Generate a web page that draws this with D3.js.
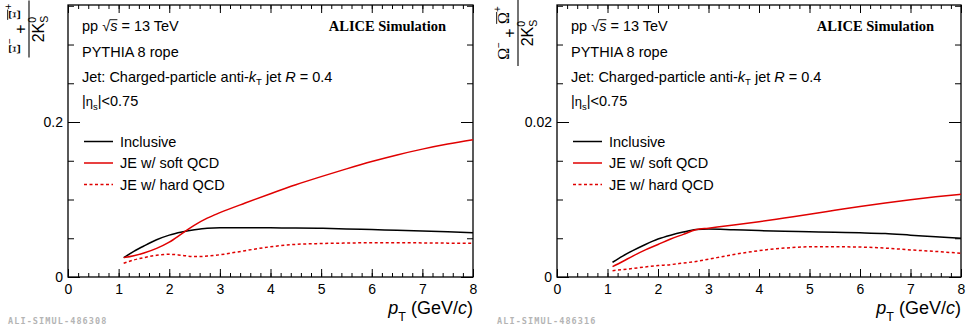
<!DOCTYPE html>
<html><head><meta charset="utf-8">
<script src="https://cdn.jsdelivr.net/npm/d3@7"></script>
<style>body{margin:0;background:#fff}svg{display:block}text{white-space:pre}</style>
</head><body>
<script>
// ---------------- data ----------------
const pT = [1.1,1.3,1.5,1.75,2.0,2.25,2.5,2.75,3.0,3.5,4.0,4.5,5.0,5.5,6.0,6.5,7.0,7.5,8.0];
const xiInclusive = [0.025,0.033,0.040,0.048,0.054,0.058,0.061,0.063,0.0635,0.0635,0.0634,0.0632,0.0628,0.0621,0.0612,0.0603,0.0594,0.0583,0.0572];
const xiSoft      = [0.025,0.0275,0.031,0.037,0.045,0.056,0.067,0.076,0.083,0.0955,0.1075,0.119,0.1295,0.1395,0.149,0.1575,0.165,0.1715,0.177];
const xiHard      = [0.0177,0.022,0.025,0.028,0.0293,0.028,0.0263,0.027,0.0287,0.034,0.039,0.0421,0.0432,0.0438,0.0442,0.0442,0.044,0.0437,0.0435];
const omInclusive = [0.0019,0.0027,0.0034,0.0042,0.0049,0.0054,0.0058,0.00612,0.0062,0.0061,0.00599,0.0059,0.00584,0.00577,0.0057,0.0056,0.0054,0.0052,0.0050];
const omSoft      = [0.00133,0.0020,0.0027,0.0035,0.0042,0.0049,0.0055,0.0061,0.0063,0.0067,0.00714,0.00762,0.0081,0.0086,0.0091,0.00955,0.00997,0.01035,0.01067];
const omHard      = [0.00082,0.00095,0.0011,0.0013,0.00147,0.0016,0.0018,0.0020,0.0023,0.0029,0.0034,0.00373,0.0039,0.0039,0.00386,0.00373,0.0035,0.0033,0.00306];
const xTickLabels = [0,1,2,3,4,5,6,7,8];
const xiYTickLabels = [0,0.2];
const omYTickLabels = [0,0.02];
const legendLabels = ["Inclusive","JE w/ soft QCD","JE w/ hard QCD"];
const watermarks = ["ALI-SIMUL-486308","ALI-SIMUL-486316"];

// ---------------- drawing ----------------
const W=967,H=330, SANS="Liberation Sans, Arial, Helvetica, sans-serif", SERIF="Liberation Serif, Times New Roman, serif";
const RED="#e00000";
const svg=d3.select("body").append("svg").attr("width",W).attr("height",H);

function rich(g,x,y,pieces,anchor,size,family){
  const grp=g.append("g");
  let cx=0;
  pieces.forEach(p=>{
    const s=p.size||size, dy=p.dy||0;
    const t=grp.append("text").attr("x",cx).attr("y",dy)
      .attr("font-family",p.family||family).attr("font-size",s)
      .attr("font-style",p.italic?"italic":"normal").attr("font-weight",p.bold?"bold":"normal")
      .attr("fill","#000").text(p.t);
    const w=t.node().getComputedTextLength();
    if(p.over){
      grp.append("line").attr("x1",cx+(p.overX||0)).attr("x2",cx+w).attr("y1",dy-s*p.over).attr("y2",dy-s*p.over)
        .attr("stroke","#000").attr("stroke-width",0.9);
    }
    if(!p.noAdvance) cx+=w+(p.kern||0);
  });
  const sh=anchor==="end"?-cx:anchor==="middle"?-cx/2:0;
  grp.attr("transform",`translate(${x+sh},${y})`);
  return grp;
}

function panel(o){
  const top=5,bot=277;
  const x=d3.scaleLinear().domain([0,8]).range([o.left,o.right]);
  const y=d3.scaleLinear().domain([0,o.ymax]).range([bot,top]);
  const g=svg.append("g");
  const minorX=d3.range(0,8.0001,0.2).map(v=>+v.toFixed(2));
  const minorY=d3.range(0,o.ymax,o.yminor).map(v=>+v.toPrecision(6));
  const style=a=>{a.select(".domain").remove();a.selectAll("line").attr("stroke","#000").attr("stroke-width",1);
    a.selectAll("text").attr("font-family",SANS).attr("font-size",14).attr("fill","#000");};
  // bottom
  g.append("g").attr("transform",`translate(0,${bot})`).call(d3.axisBottom(x).tickValues(minorX).tickSize(-4).tickFormat("")).call(style);
  g.append("g").attr("transform",`translate(0,${bot})`).call(d3.axisBottom(x).tickValues(xTickLabels).tickSize(-8).tickPadding(7).tickFormat(d3.format("d"))).call(style);
  // top
  g.append("g").attr("transform",`translate(0,${top})`).call(d3.axisTop(x).tickValues(minorX).tickSize(-4).tickFormat("")).call(style);
  g.append("g").attr("transform",`translate(0,${top})`).call(d3.axisTop(x).tickValues(xTickLabels).tickSize(-8).tickFormat("")).call(style);
  // left
  g.append("g").attr("transform",`translate(${o.left},0)`).call(d3.axisLeft(y).tickValues(minorY).tickSize(-6).tickFormat("")).call(style);
  g.append("g").attr("transform",`translate(${o.left},0)`).call(d3.axisLeft(y).tickValues(o.yticks).tickSize(-12).tickPadding(5).tickFormat(d=>d===0?"0":String(d))).call(style);
  // right
  g.append("g").attr("transform",`translate(${o.right},0)`).call(d3.axisRight(y).tickValues(minorY).tickSize(-6).tickFormat("")).call(style);
  g.append("g").attr("transform",`translate(${o.right},0)`).call(d3.axisRight(y).tickValues(o.yticks).tickSize(-12).tickFormat("")).call(style);
  // frame
  g.append("rect").attr("x",o.left).attr("y",top).attr("width",o.right-o.left).attr("height",bot-top)
    .attr("fill","none").attr("stroke","#000").attr("stroke-width",1.3);

  // curves
  const line=d3.line().x((d,i)=>x(pT[i])).y(d=>y(d)).curve(d3.curveMonotoneX);
  const series=[{v:o.inc,c:"#000",dash:null},{v:o.soft,c:RED,dash:null},{v:o.hard,c:RED,dash:"3,2.5"}];
  series.forEach(s=>g.append("path").attr("d",line(s.v)).attr("fill","none").attr("stroke",s.c)
    .attr("stroke-width",1.5).attr("stroke-dasharray",s.dash));

  // legend
  const L=o.left;
  const ly=[141.5,163,184.5];
  series.forEach((s,i)=>{
    g.append("line").attr("x1",L+16).attr("x2",L+45).attr("y1",ly[i]).attr("y2",ly[i])
      .attr("stroke",s.c).attr("stroke-width",1.5).attr("stroke-dasharray",s.dash);
    g.append("text").attr("x",L+52).attr("y",ly[i]+5).attr("font-family",SANS).attr("font-size",14.5).text(legendLabels[i]);
  });

  // texts
  rich(g,L+14,31,[{t:"pp "},{t:"√"},{t:"s",italic:true,over:0.78,overX:-0.5},{t:" = 13 TeV"}],"start",14.5,SANS);
  rich(g,o.right-27,31,[{t:"ALICE Simulation",bold:true}],"end",14.5,SERIF);
  rich(g,L+14,57,[{t:"PYTHIA 8 rope"}],"start",14.5,SANS);
  rich(g,L+14,81.5,[{t:"Jet: Charged-particle anti-"},{t:"k",italic:true},{t:"T",size:9.5,dy:3},{t:" jet "},{t:"R",italic:true},{t:" = 0.4"}],"start",14.5,SANS);
  rich(g,L+14,106,[{t:"|"},{t:"η",size:13},{t:"s",size:9.5,dy:4},{t:"|<0.75"}],"start",14.5,SANS);

  // x title
  rich(g,o.right,314,[{t:"p",italic:true},{t:"T",size:12.5,dy:6.5},{t:" (GeV/"},{t:"c",italic:true},{t:")"}],"end",18,SANS);

  // y title (rotated fraction)
  const yt=g.append("g").attr("transform",`translate(${o.left-39},${o.ycen}) rotate(-90)`);
  rich(yt,0,-3.5,[{t:o.sym,family:SERIF,size:16,dy:-6},{t:"−",size:10,dy:-13},{t:" + ",size:16},
    {t:o.sym,family:SERIF,size:16,dy:-6,over:0.74},{t:"+",size:10,dy:-14}],"middle",16,SANS);
  yt.append("line").attr("x1",-o.barHalf).attr("x2",o.barHalf).attr("y1",0).attr("y2",0).attr("stroke","#000").attr("stroke-width",1.1);
  rich(yt,0,15,[{t:"2K"},{t:"0",size:10.5,dy:-8,noAdvance:true},{t:"S",size:10.5,dy:3.5}],"middle",16,SANS);

  // watermark
  g.append("text").attr("x",o.left-60).attr("y",323.5).attr("font-family","DejaVu Sans Mono, Liberation Mono, monospace")
    .attr("font-weight","bold").attr("font-size",8.5).attr("letter-spacing",1.1).attr("fill","#b4b4b4").text(o.wm);
}

panel({left:68,right:473,ymax:0.351,yminor:0.05,yticks:xiYTickLabels,inc:xiInclusive,soft:xiSoft,hard:xiHard,
  sym:"Ξ",ycen:29,barHalf:28.5,wm:watermarks[0]});
panel({left:557,right:961,ymax:0.0351,yminor:0.005,yticks:omYTickLabels,inc:omInclusive,soft:omSoft,hard:omHard,
  sym:"Ω",ycen:33,barHalf:33,wm:watermarks[1]});
</script>
</body></html>
